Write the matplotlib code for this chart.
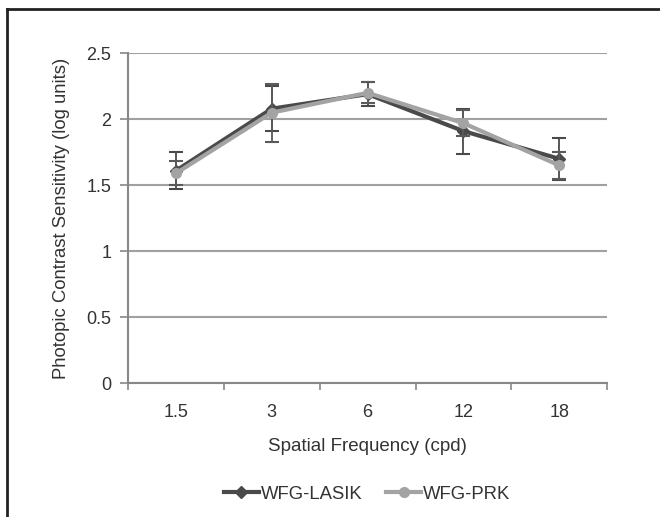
import numpy as np
import matplotlib.pyplot as plt
from matplotlib.lines import Line2D

plt.rcParams['font.family'] = ['Liberation Sans', 'DejaVu Sans']

freqs = ['1.5', '3', '6', '12', '18']
lasik = [1.61, 2.08, 2.19, 1.91, 1.70]
lasik_err = [0.14, 0.17, 0.09, 0.17, 0.16]
prk = [1.59, 2.05, 2.20, 1.97, 1.65]
prk_err = [0.09, 0.22, 0.08, 0.10, 0.10]

fig = plt.figure(figsize=(6.6, 5.17), dpi=100)
ax = fig.add_axes([0.194, 0.259, 0.726, 0.638])

x = np.arange(len(freqs))

ax.errorbar(x, lasik, yerr=lasik_err, color='#4a4a4a', lw=3, marker='D', ms=6,
            ecolor='#4a4a4a', elinewidth=1.3, capsize=5, capthick=1.5,
            label='WFG-LASIK', zorder=3)
ax.errorbar(x, prk, yerr=prk_err, color='#a3a3a3', lw=3, marker='o', ms=7,
            ecolor='#5a5a5a', elinewidth=1.3, capsize=5, capthick=1.5,
            label='WFG-PRK', zorder=4)

ax.set_xlim(-0.5, len(freqs) - 0.5)
ax.set_ylim(0, 2.5)
ax.set_yticks([0, 0.5, 1, 1.5, 2, 2.5])
ax.set_yticklabels(['0', '0.5', '1', '1.5', '2', '2.5'])
ax.set_xticks(x)
ax.set_xticklabels(freqs)
ax.set_xticks(np.arange(-0.5, len(freqs)), minor=True)
ax.tick_params(axis='x', which='major', length=0, pad=15, labelsize=13, colors='#333333')
ax.tick_params(axis='x', which='minor', length=5, width=1.2, color='#888888')
ax.tick_params(axis='y', length=6, width=1.2, color='#888888', pad=6, labelsize=13,
               labelcolor='#333333')

ax.yaxis.grid(True, color='#a0a0a0', lw=1.5)
ax.set_axisbelow(True)
for s in ['top', 'right']:
    ax.spines[s].set_visible(False)
for s in ['left', 'bottom']:
    ax.spines[s].set_color('#888888')
    ax.spines[s].set_linewidth(1.5)

ax.set_xlabel('Spatial Frequency (cpd)', fontsize=13.5, color='#333333', labelpad=12)
ax.set_ylabel('Photopic Contrast Sensitivity (log units)', fontsize=13.3, color='#333333',
              labelpad=12)

handles = [Line2D([], [], color='#4a4a4a', lw=3, marker='D', ms=6),
           Line2D([], [], color='#a3a3a3', lw=3, marker='o', ms=7)]
fig.legend(handles, ['WFG-LASIK', 'WFG-PRK'], loc='center', bbox_to_anchor=(0.556, 0.044),
           ncol=2, frameon=False, fontsize=13.3, handlelength=1.9, handletextpad=0.1,
           columnspacing=1.3, labelcolor='#333333')

# outer frame (left and top edges visible)
fig.add_artist(Line2D([0.011, 0.011], [0, 0.983], color='#222222', lw=2))
fig.add_artist(Line2D([0.011, 1.0], [0.983, 0.983], color='#222222', lw=2))

fig.savefig('out.png', dpi=100)
